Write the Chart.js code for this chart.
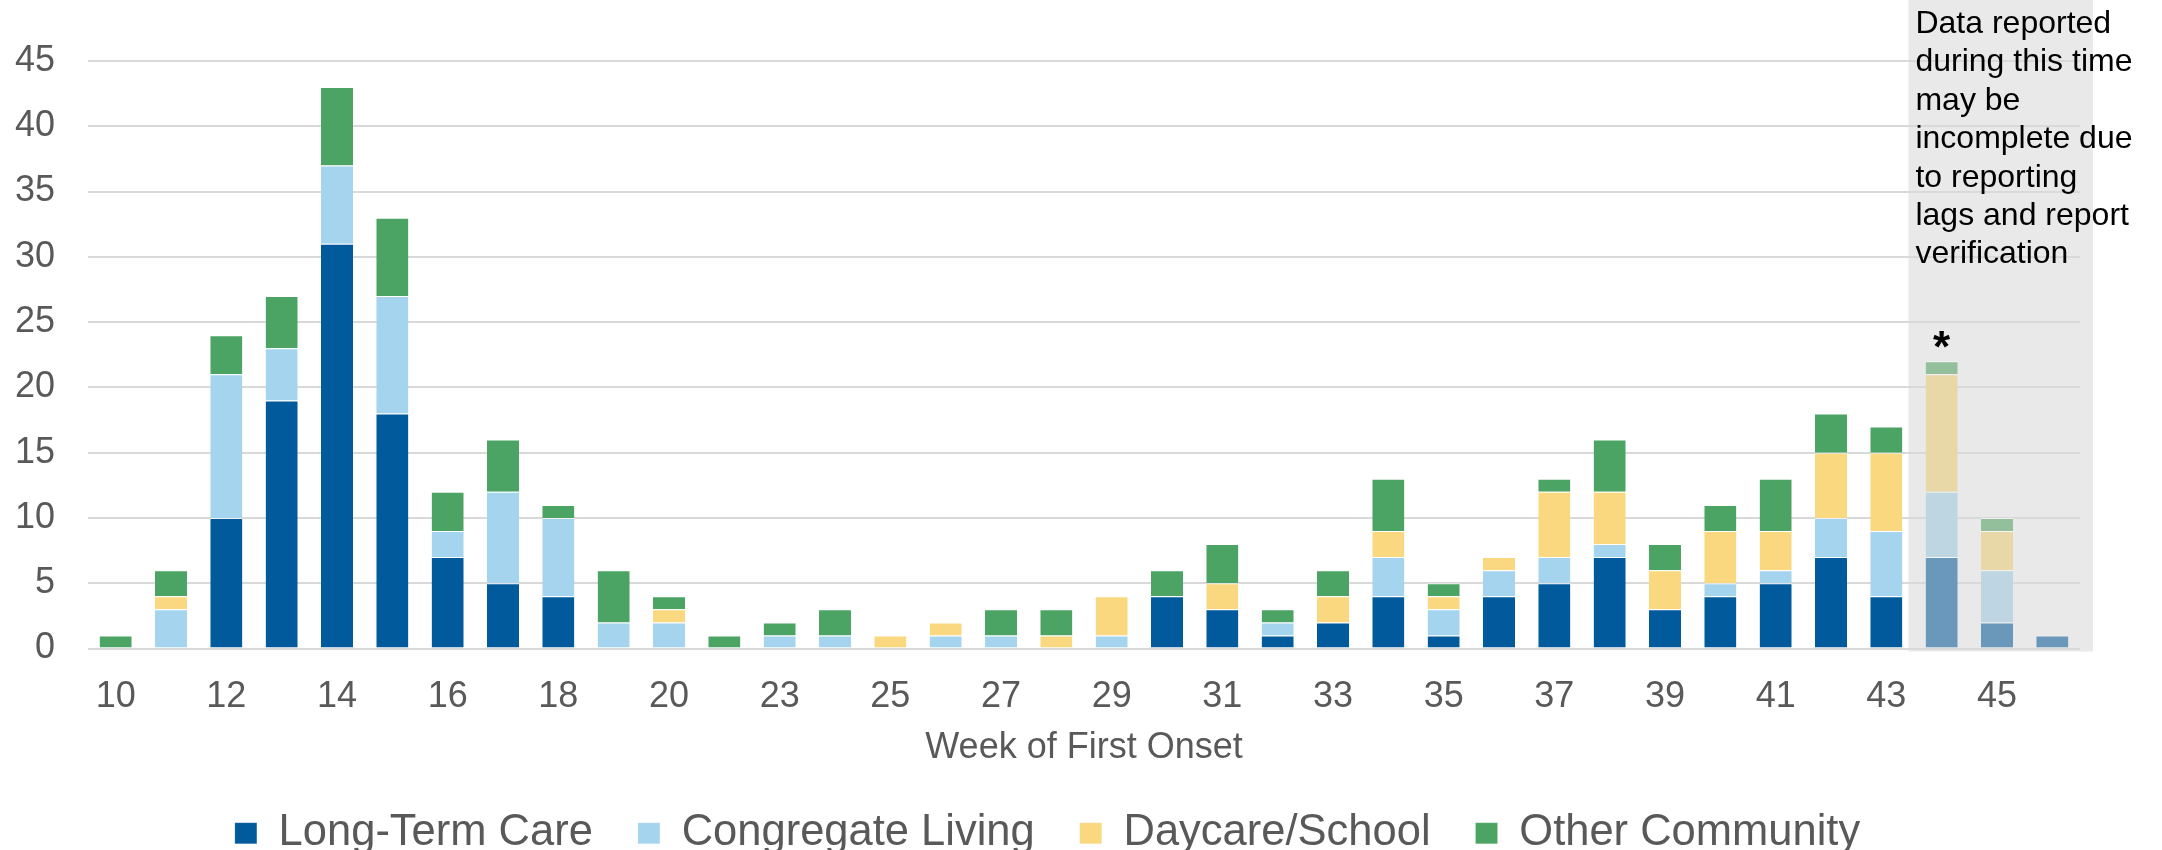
<!DOCTYPE html>
<html>
<head>
<meta charset="utf-8">
<script src="https://cdn.jsdelivr.net/npm/chart.js@4.4.0/dist/chart.umd.min.js"></script>
<style>
  html, body { margin: 0; padding: 0; background: #fff; overflow: hidden; }
  #wrap { width: 2162px; height: 850px; }
</style>
</head>
<body>
<div id="wrap"><canvas id="outbreaks" width="2162" height="850"></canvas></div>
<script>
// week of first onset (week 21 has no bar)
const weeks = ['10','11','12','13','14','15','16','17','18','19','20','22','23','24','25','26','27','28','29','30','31','32','33','34','35','36','37','38','39','40','41','42','43','44','45','46']
const longTermCare = [0,0,10,19,31,18,7,5,4,0,0,0,0,0,0,0,0,0,0,4,3,1,2,4,1,4,5,7,3,4,5,7,4,7,2,1]
const congregateLiving = [0,3,11,4,6,9,2,7,6,2,2,0,1,1,0,1,1,0,1,0,0,1,0,3,2,2,2,1,0,1,1,3,5,5,4,0]
const daycareSchool = [0,1,0,0,0,0,0,0,0,0,1,0,0,0,1,1,0,1,3,0,2,0,2,2,1,1,5,4,3,4,3,5,6,9,3,0]
const otherCommunity = [1,2,3,4,6,6,3,4,1,4,1,1,1,2,0,0,2,2,0,2,3,1,2,4,1,0,1,4,2,2,4,3,2,1,1,0]
const yTicks = [0,5,10,15,20,25,30,35,40,45]

// weeks from here on may be incomplete
const firstLagWeek = '44'
const lagNote = ['Data reported', 'during this time', 'may be', 'incomplete due', 'to reporting', 'lags and report', 'verification']

const FONT = '"Liberation Sans", Arial, sans-serif'
const lagStart = weeks.indexOf(firstLagWeek)

const colour = (full, faded) => (ctx) => (ctx.dataIndex >= lagStart ? faded : full)

const makeSet = (label, data, full, faded) => ({
  label: label,
  data: data,
  backgroundColor: colour(full, faded),
  borderColor: 'rgba(255,255,255,0.6)',
  borderWidth: {top: 1, right: 0, bottom: 0, left: 0},
  borderSkipped: false,
  categoryPercentage: 1,
  barPercentage: 0.58
})

// gray box behind the late weeks, drawn under the grid lines
const lagBox = {
  id: 'lagBox',
  beforeDraw(chart) {
    const {ctx, chartArea, scales} = chart
    const x = scales.x
    const step = x.getPixelForValue(1) - x.getPixelForValue(0)
    const left = x.getPixelForValue(lagStart) - step * 0.6
    const right = chartArea.right + 13
    const bottom = scales.y.getPixelForValue(0) + 3
    ctx.save()
    ctx.fillStyle = '#e9e9e9'
    ctx.fillRect(left, 0, right - left, bottom)
    ctx.restore()
  },
  afterDraw(chart) {
    const {ctx, scales} = chart
    const x = scales.x
    const step = x.getPixelForValue(1) - x.getPixelForValue(0)
    const left = x.getPixelForValue(lagStart) - step * 0.6
    ctx.save()
    ctx.fillStyle = '#000'
    ctx.font = '32px ' + FONT
    ctx.textAlign = 'left'
    ctx.textBaseline = 'alphabetic'
    lagNote.forEach((line, i) => {
      ctx.fillText(line, left + 7, 33 + i * 38.4)
    })
    // asterisk over the first incomplete week
    const total = longTermCare[lagStart] + congregateLiving[lagStart] + daycareSchool[lagStart] + otherCommunity[lagStart]
    ctx.font = 'bold 44px ' + FONT
    ctx.textAlign = 'center'
    ctx.fillText('*', x.getPixelForValue(lagStart), scales.y.getPixelForValue(total) + 1)
    ctx.restore()
  }
}

const ctx = document.querySelector('#outbreaks')
const chart = new Chart(ctx, {
  type: 'bar',
  data: {
    labels: weeks,
    datasets: [
      makeSet('Long-Term Care', longTermCare, '#005a9b', '#6a98ba'),
      makeSet('Congregate Living', congregateLiving, '#a5d5ee', '#bdd6e2'),
      makeSet('Daycare/School', daycareSchool, '#f9d87f', '#e8d8a8'),
      makeSet('Other Community', otherCommunity, '#4ba463', '#93bf9a')
    ]
  },
  options: {
    responsive: false,
    animation: false,
    events: [],
    layout: {padding: {top: 61, right: 82, bottom: -15, left: 15}},
    scales: {
      x: {
        stacked: true,
        grid: {display: false},
        border: {display: false},
        ticks: {
          autoSkip: false,
          maxRotation: 0,
          padding: 19,
          color: '#595959',
          font: {family: FONT, size: 36},
          callback: function (value, index) {
            return index % 2 === 0 ? this.getLabelForValue(value) : ''
          }
        },
        title: {
          display: true,
          text: 'Week of First Onset',
          color: '#595959',
          font: {family: FONT, size: 36},
          padding: {top: 9, bottom: -3}
        },
        afterFit: (scale) => { scale.height = 118 }
      },
      y: {
        stacked: true,
        min: 0,
        max: 45,
        afterBuildTicks: (scale) => { scale.ticks = yTicks.map(v => ({value: v})) },
        grid: {color: '#d9d9d9', lineWidth: 2, drawTicks: false},
        border: {display: false},
        ticks: {
          padding: 33,
          color: '#595959',
          font: {family: FONT, size: 36}
        },
        afterFit: (scale) => { scale.width = 73 }
      }
    },
    plugins: {
      legend: {
        position: 'bottom',
        labels: {
          boxWidth: 22,
          boxHeight: 21,
          padding: 45,
          color: '#595959',
          font: {family: FONT, size: 43.5}
        }
      },
      tooltip: {enabled: false}
    }
  },
  plugins: [lagBox]
})
</script>
</body>
</html>
